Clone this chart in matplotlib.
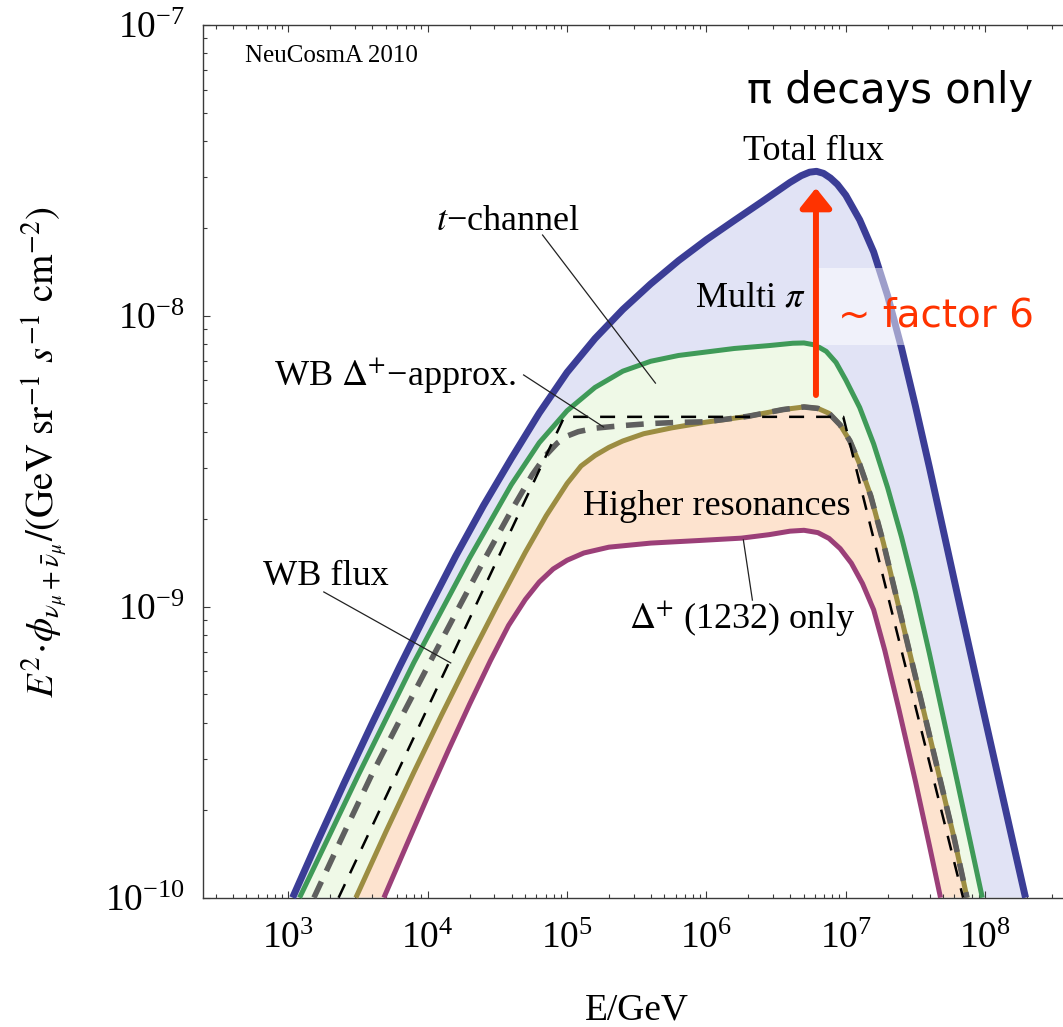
import numpy as np
import matplotlib
matplotlib.use("Agg")
import matplotlib.pyplot as plt
from matplotlib.patches import Rectangle
from matplotlib.ticker import (FixedLocator, LogLocator, LogFormatterSciNotation,
                               NullFormatter)

plt.rcParams["font.family"] = ["Liberation Serif", "DejaVu Serif"]
plt.rcParams["mathtext.fontset"] = "stix"

# Axis decades carrying labels
x_decades = [1e3, 1e4, 1e5, 1e6, 1e7, 1e8]
y_decades = [1e-10, 1e-9, 1e-8, 1e-7]

# Spectra as log10(E/GeV) and log10(E^2 phi / (GeV sr^-1 s^-1 cm^-2))
log_e_total = [3.03, 3.2, 3.4, 3.6, 3.8, 4.0, 4.2, 4.4, 4.6, 4.8, 5.0, 5.2, 5.4, 5.6, 5.8,
               6.0, 6.2, 6.4, 6.5, 6.6, 6.68, 6.74, 6.79, 6.84, 6.89, 6.94, 7.0, 7.1, 7.2,
               7.3, 7.4, 7.5, 7.6, 7.8, 8.0, 8.2, 8.29]
log_f_total = [-10.0, -9.816, -9.606, -9.402, -9.204, -9.012, -8.826, -8.652, -8.490, -8.334,
               -8.194, -8.078, -7.978, -7.890, -7.810, -7.738, -7.672, -7.607, -7.574, -7.541,
               -7.518, -7.506, -7.503, -7.510, -7.526, -7.548, -7.585, -7.67, -7.78, -7.93,
               -8.11, -8.31, -8.52, -8.955, -9.385, -9.81, -10.0]

log_e_tchan = [3.08, 3.3, 3.5, 3.7, 3.9, 4.1, 4.3, 4.45, 4.6, 4.7, 4.8, 4.9, 5.0, 5.1, 5.2,
               5.3, 5.4, 5.5, 5.6, 5.8, 6.0, 6.2, 6.45, 6.62, 6.7, 6.78, 6.86, 6.93, 7.0,
               7.1, 7.2, 7.3, 7.4, 7.5, 7.6, 7.8, 7.98]
log_f_tchan = [-10.0, -9.78, -9.58, -9.386, -9.192, -9.012, -8.832, -8.706, -8.580, -8.508,
               -8.436, -8.381, -8.326, -8.286, -8.246, -8.218, -8.190, -8.173, -8.156, -8.136,
               -8.124, -8.112, -8.102, -8.094, -8.093, -8.100, -8.122, -8.160, -8.22, -8.315,
               -8.44, -8.59, -8.76, -8.95, -9.16, -9.6, -10.0]

log_e_higher = [3.484, 3.7, 3.9, 4.1, 4.3, 4.5, 4.7, 4.85, 5.0, 5.1, 5.2, 5.3, 5.4, 5.55,
                5.75, 6.0, 6.3, 6.55, 6.7, 6.8, 6.88, 6.96, 7.03, 7.1, 7.18, 7.27, 7.37,
                7.5, 7.65, 7.78, 7.87]
log_f_higher = [-10.0, -9.773, -9.569, -9.371, -9.179, -8.993, -8.813, -8.687, -8.576, -8.516,
                -8.480, -8.452, -8.430, -8.405, -8.385, -8.365, -8.345, -8.322, -8.313, -8.318,
                -8.335, -8.375, -8.43, -8.51, -8.62, -8.78, -8.98, -9.24, -9.54, -9.80, -10.0]

log_e_delta = [3.685, 3.85, 4.0, 4.15, 4.3, 4.45, 4.58, 4.7, 4.8, 4.9, 5.0, 5.12, 5.3, 5.6,
               5.95, 6.25, 6.45, 6.6, 6.7, 6.8, 6.88, 6.96, 7.04, 7.12, 7.2, 7.28, 7.38,
               7.5, 7.6, 7.68]
log_f_delta = [-10.0, -9.817, -9.652, -9.491, -9.335, -9.185, -9.064, -8.975, -8.915, -8.870,
               -8.840, -8.815, -8.795, -8.781, -8.772, -8.764, -8.752, -8.740, -8.737, -8.745,
               -8.765, -8.800, -8.850, -8.92, -9.01, -9.15, -9.35, -9.60, -9.82, -10.0]

log_e_wb_delta = [3.183, 3.4, 3.6, 3.8, 4.0, 4.2, 4.4, 4.6, 4.75, 4.85, 4.93, 5.0, 5.08,
                  5.2, 5.4, 5.6, 5.8, 6.0, 6.3, 6.55, 6.7, 6.8, 6.88, 6.96, 7.03, 7.1,
                  7.18, 7.27, 7.37, 7.5, 7.65, 7.78, 7.87]
log_f_wb_delta = [-10.0, -9.777, -9.575, -9.389, -9.205, -9.023, -8.843, -8.669, -8.546,
                  -8.478, -8.437, -8.413, -8.398, -8.386, -8.377, -8.370, -8.366, -8.364,
                  -8.345, -8.322, -8.313, -8.318, -8.335, -8.375, -8.43, -8.51, -8.62,
                  -8.78, -8.98, -9.24, -9.54, -9.80, -10.0]

log_e_wb = [3.36, 4.98, 6.982, 7.842]
log_f_wb = [-10.0, -8.347, -8.347, -10.0]

# Red arrow spanning the gap between the t-channel plateau and the total flux peak
log_e_arrow = 6.786
log_f_arrow = [-8.272, -7.560]


def xy(le, lf):
    return 10 ** np.asarray(le), 10 ** np.asarray(lf)


def band(upper, lower):
    (xu, yu), (xl, yl) = upper, lower
    return np.concatenate([xu, xl[::-1]]), np.concatenate([yu, yl[::-1]])


total = xy(log_e_total, log_f_total)
tchan = xy(log_e_tchan, log_f_tchan)
higher = xy(log_e_higher, log_f_higher)
delta = xy(log_e_delta, log_f_delta)
wb_delta = xy(log_e_wb_delta, log_f_wb_delta)
wb = xy(log_e_wb, log_f_wb)

W, H = 1063, 1027
fig = plt.figure(figsize=(W / 100, H / 100), dpi=100)
ax = fig.add_axes([203 / W, 1 - 897.7 / H, 1 - 203 / W, (897.7 - 25) / H])
ax.set_xscale("log")
ax.set_yscale("log")
ax.set_xlim(10 ** 2.387, 10 ** 8.559)
ax.set_ylim(1e-10, 1e-7)

# Shaded contributions
ax.fill(*band(total, tchan), color="#e1e3f5", lw=0, zorder=1)
ax.fill(*band(tchan, higher), color="#eff9e7", lw=0, zorder=1)
ax.fill(*band(higher, delta), color="#fde3cf", lw=0, zorder=1)

line_kw = dict(solid_joinstyle="round", solid_capstyle="butt", clip_on=False)
ax.plot(*delta, color="#9b3f78", lw=3.6, zorder=3, **line_kw)
ax.plot(*higher, color="#9c8d42", lw=3.6, zorder=3, **line_kw)
ax.plot(*tchan, color="#3f9a58", lw=3.6, zorder=3, **line_kw)
ax.plot(*total, color="#3b3d96", lw=5.0, zorder=3, **line_kw)
ax.plot(*wb_delta, color="#5f5f5f", lw=4.0, dashes=(3.2, 2.1), zorder=4,
        dash_capstyle="butt", dash_joinstyle="round", clip_on=False)
ax.plot(*wb, color="black", lw=1.8, dashes=(6.0, 4.8), zorder=5,
        dash_capstyle="butt", clip_on=False)

# Axes styling
for side in ("left", "bottom", "top"):
    ax.spines[side].set_linewidth(1.0)
    ax.spines[side].set_color("#3a3a3a")
ax.spines["right"].set_visible(False)
ax.xaxis.set_major_locator(FixedLocator(x_decades))
ax.xaxis.set_minor_locator(LogLocator(base=10, subs=np.arange(2, 10), numticks=40))
ax.yaxis.set_major_locator(FixedLocator(y_decades))
ax.yaxis.set_minor_locator(LogLocator(base=10, subs=np.arange(2, 10), numticks=40))
ax.xaxis.set_major_formatter(LogFormatterSciNotation())
ax.yaxis.set_major_formatter(LogFormatterSciNotation())
ax.xaxis.set_minor_formatter(NullFormatter())
ax.yaxis.set_minor_formatter(NullFormatter())
ax.tick_params(which="both", direction="in", top=True, right=False, color="#3a3a3a",
               labelsize=27, width=0.8)
ax.tick_params(which="major", length=5)
ax.tick_params(which="minor", length=3)
ax.tick_params(axis="x", pad=17)
ax.tick_params(axis="y", pad=13)

fig.text(637 / W, 1 - 1019 / H, "E/GeV", fontsize=27, ha="center", va="baseline")
fig.text(45 / W, 1 - 452 / H,
         r"$E^2\!\cdot\!\phi_{\nu_\mu+\bar{\nu}_\mu}/(\mathrm{GeV\ sr}^{-1}\ s^{-1}\ \mathrm{cm}^{-2})$",
         fontsize=28, rotation=90, ha="center", va="center")

# Curve labels and leader lines
lbl = dict(fontsize=26, ha="center", va="baseline", zorder=6)
ax.text(10 ** 6.767, 10 ** -7.464, "Total flux", **lbl)
ax.text(10 ** 6.315, 10 ** -7.969, r"Multi $\pi$", **lbl)
ax.text(10 ** 4.573, 10 ** -7.705, "$t$\u2212channel", **lbl)
ax.text(10 ** 3.763, 10 ** -8.238, "WB $\\Delta^{+}$\u2212approx.", **lbl)
ax.text(10 ** 3.269, 10 ** -8.925, "WB flux", **lbl)
ax.text(10 ** 6.072, 10 ** -8.684, "Higher resonances", **lbl)
ax.text(10 ** 6.258, 10 ** -9.073, r"$\Delta^{+}$ (1232) only", **lbl)
ax.text(10 ** 3.312, 10 ** -7.127, "NeuCosmA 2010", fontsize=18, ha="center", va="baseline")

leader = dict(color="#222222", lw=0.9, zorder=6)
ax.plot([10 ** 4.824, 10 ** 5.634], [10 ** -7.722, 10 ** -8.231], **leader)
ax.plot([10 ** 4.688, 10 ** 5.262], [10 ** -8.203, 10 ** -8.382], **leader)
ax.plot([10 ** 3.254, 10 ** 4.165], [10 ** -8.949, 10 ** -9.193], **leader)
ax.plot([10 ** 6.330, 10 ** 6.265], [10 ** -8.977, 10 ** -8.770], **leader)

# Translucent backdrop behind the factor label
ax.add_patch(Rectangle((10 ** 6.789, 10 ** -8.100), 10 ** 8.43 - 10 ** 6.789,
                       10 ** -7.835 - 10 ** -8.100, facecolor="white", alpha=0.5,
                       lw=0, zorder=7))

ax.annotate("", xy=(10 ** log_e_arrow, 10 ** log_f_arrow[1]),
            xytext=(10 ** log_e_arrow, 10 ** log_f_arrow[0]),
            arrowprops=dict(arrowstyle="-|>,head_length=0.25,head_width=0.2",
                            color="#ff3300", lw=4.3, mutation_scale=48,
                            shrinkA=0, shrinkB=0), zorder=8)

ax.text(10 ** 7.649, 10 ** -8.038, "~ factor 6", fontsize=28, color="#ff3300",
        family="DejaVu Sans", ha="center", va="baseline", zorder=9)
ax.text(10 ** 7.319, 10 ** -7.268, "\u03c0 decays only", fontsize=30, color="black",
        family="DejaVu Sans", ha="center", va="baseline", zorder=9)

fig.savefig("out.png", dpi=100)
